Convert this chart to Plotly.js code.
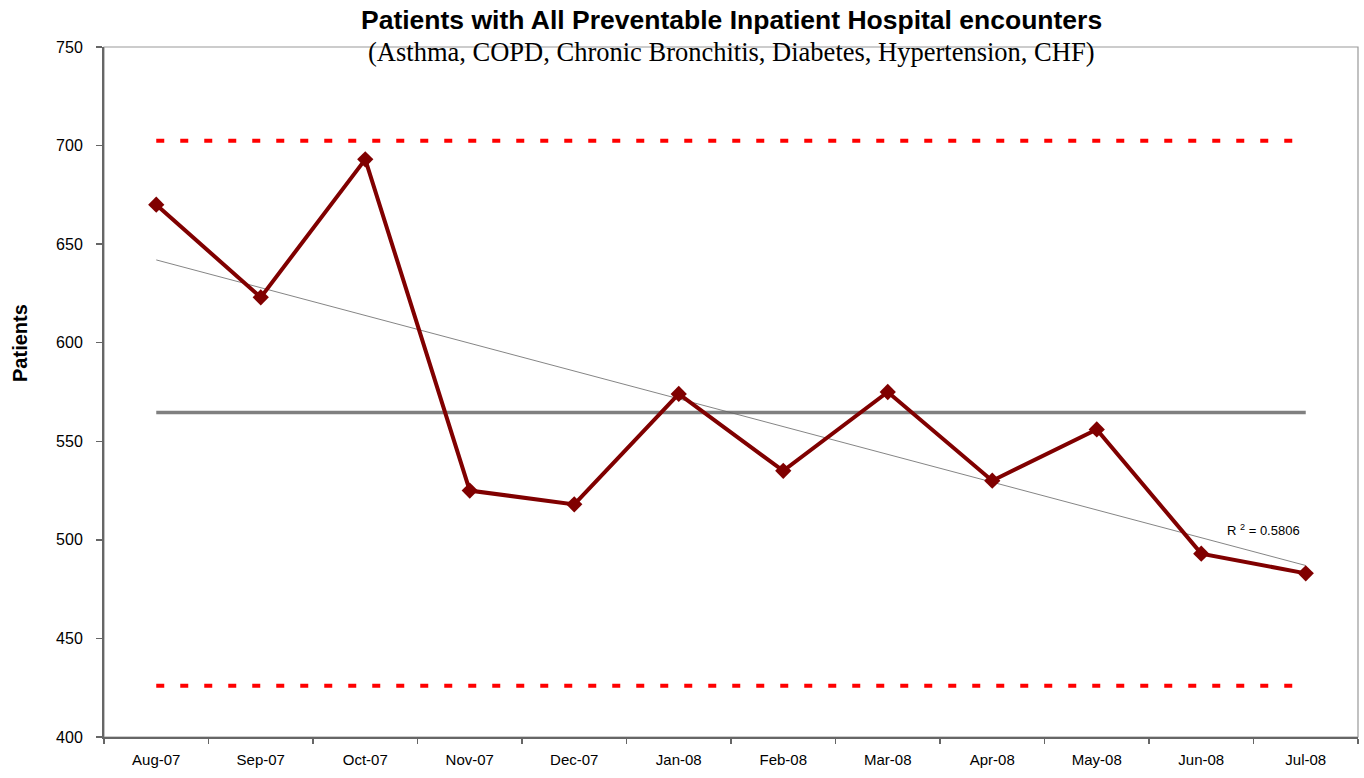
<!DOCTYPE html>
<html>
<head>
<meta charset="utf-8">
<script src="https://cdn.plot.ly/plotly-3.0.1.min.js"></script>
<style>html,body{margin:0;padding:0;background:#fff;}#chart{width:1364px;height:778px;}</style>
</head>
<body>
<div id="chart"></div>
<script>
const months = ["Aug-07","Sep-07","Oct-07","Nov-07","Dec-07","Jan-08","Feb-08","Mar-08","Apr-08","May-08","Jun-08","Jul-08"];
const patients = [670, 623, 693, 525, 518, 574, 535, 575, 530, 556, 493, 483];
const meanValue = 564.6;
const upperLimit = 702.5;
const lowerLimit = 426;
const trendEnds = [642, 487];
const rSquared = "R <sup>2</sup> = 0.5806";

const first = months[0], last = months[months.length - 1];
const traces = [
  {x: [first, last], y: [upperLimit, upperLimit], mode: "lines", line: {color: "#FF0000", width: 4, dash: "8px,16px"}, hoverinfo: "skip"},
  {x: [first, last], y: [lowerLimit, lowerLimit], mode: "lines", line: {color: "#FF0000", width: 4, dash: "8px,16px"}, hoverinfo: "skip"},
  {x: [first, last], y: [meanValue, meanValue], mode: "lines", line: {color: "#808080", width: 3.5}, hoverinfo: "skip"},
  {x: [first, last], y: trendEnds, mode: "lines", line: {color: "#666666", width: 0.8}, hoverinfo: "skip"},
  {x: months, y: patients, mode: "lines+markers", line: {color: "#800000", width: 4}, marker: {symbol: "diamond", size: 12.5, color: "#800000"}}
];

const layout = {
  width: 1364, height: 778,
  margin: {l: 104, r: 6, t: 47, b: 41},
  paper_bgcolor: "#fff", plot_bgcolor: "#fff",
  showlegend: false,
  font: {family: "Arial, Liberation Sans, sans-serif", size: 15, color: "#000"},
  xaxis: {
    type: "category", categoryorder: "array", categoryarray: months,
    range: [-0.5, 11.5], tickson: "boundaries",
    ticks: "outside", ticklen: 5, tickcolor: "#666", tickwidth: 1.5,
    showline: true, linecolor: "#666", linewidth: 2, mirror: false,
    showgrid: false, zeroline: false, fixedrange: true,
    ticklabelstandoff: 8,
    tickfont: {size: 15}
  },
  yaxis: {
    range: [400, 750], tickvals: [400, 450, 500, 550, 600, 650, 700, 750],
    ticks: "outside", ticklen: 6, tickcolor: "#666", tickwidth: 1.5,
    showline: true, linecolor: "#666", linewidth: 2,
    showgrid: false, zeroline: false, fixedrange: true,
    ticklabelstandoff: 10,
    tickfont: {size: 16}
  },
  shapes: [
    {type: "rect", xref: "paper", yref: "paper", x0: 0, x1: 1, y0: 0, y1: 1, line: {color: "#999999", width: 1.2}, layer: "below"}
  ],
  annotations: [
    {xref: "paper", yref: "paper", x: 0.5, y: 1, xanchor: "center", yanchor: "bottom", showarrow: false,
     text: "<b>Patients with All Preventable Inpatient Hospital encounters</b>", font: {size: 26.5, family: "Arial, Liberation Sans, sans-serif"}, yshift: 10},
    {xref: "paper", yref: "paper", x: 0.5, y: 1, xanchor: "center", yanchor: "middle", showarrow: false,
     text: "(Asthma, COPD, Chronic Bronchitis, Diabetes, Hypertension, CHF)", font: {size: 26.5, family: "Liberation Serif, Times New Roman, serif"}, yshift: -5},
    {xref: "paper", yref: "paper", x: -0.067, y: 0.571, xanchor: "center", yanchor: "middle", showarrow: false, textangle: -90,
     text: "<b>Patients</b>", font: {size: 20}},
    {xref: "x", yref: "y", x: 10.6, y: 505, xanchor: "center", yanchor: "middle", showarrow: false,
     text: rSquared, font: {size: 13}}
  ]
};

Plotly.newPlot("chart", traces, layout, {displayModeBar: false, staticPlot: true});
</script>
</body>
</html>
